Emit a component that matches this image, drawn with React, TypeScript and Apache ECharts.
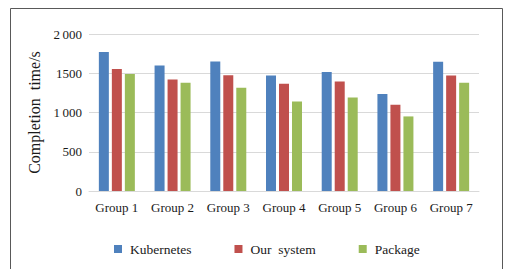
import React, { useEffect, useRef } from "react";
import * as echarts from "echarts";

const categories = ["Group 1", "Group 2", "Group 3", "Group 4", "Group 5", "Group 6", "Group 7"];
const kubernetes = [1770, 1600, 1650, 1470, 1515, 1235, 1645];
const ourSystem = [1555, 1420, 1475, 1365, 1395, 1100, 1470];
const packageVals = [1490, 1380, 1315, 1140, 1190, 950, 1380];
const yTickLabels: Record<number, string> = { 0: "0", 500: "500", 1000: "1\u2009000", 1500: "1500", 2000: "2\u2009000" };

const FONT = "'Liberation Serif', 'DejaVu Serif', serif";

export default function App() {
  const ref = useRef<HTMLDivElement>(null);
  useEffect(() => {
    if (!ref.current) return;
    const chart = echarts.init(ref.current, undefined, { renderer: "svg" });
    chart.setOption({
      animation: false,
      backgroundColor: "#ffffff",
      textStyle: { fontFamily: FONT },
      graphic: [
        {
          type: "rect",
          shape: { x: 10.5, y: 8.5, width: 492, height: 280 },
          style: { fill: "none", stroke: "#595959", lineWidth: 1 },
          silent: true,
        },
      ],
      grid: { left: 89, right: 32, top: 34, bottom: 78 },
      legend: {
        left: 109,
        top: 237,
        itemWidth: 8,
        itemHeight: 8,
        itemGap: 43,
        icon: "rect",
        textStyle: { fontFamily: FONT, fontSize: 13.5, color: "#1a1a1a", padding: [0, 0, 0, 3] },
        data: ["Kubernetes", "Our  system", "Package"],
      },
      xAxis: {
        type: "category",
        data: categories,
        axisTick: { show: false },
        axisLine: { lineStyle: { color: "#d9d9d9", width: 1 } },
        axisLabel: { fontFamily: FONT, fontSize: 13, color: "#1a1a1a", margin: 10, interval: 0 },
      },
      yAxis: {
        type: "value",
        min: 0,
        max: 2000,
        interval: 500,
        name: "Completion  time/s",
        nameLocation: "middle",
        nameGap: 46,
        nameTextStyle: { fontFamily: FONT, fontSize: 16, color: "#1a1a1a" },
        axisLine: { show: false },
        axisTick: { show: false },
        splitLine: { lineStyle: { color: "#d9d9d9", width: 1 } },
        axisLabel: {
          fontFamily: FONT,
          fontSize: 13,
          color: "#1a1a1a",
          margin: 7,
          formatter: (v: number) => yTickLabels[v] ?? String(v),
        },
      },
      series: [
        { name: "Kubernetes", type: "bar", data: kubernetes, barWidth: 10, barGap: "30%", itemStyle: { color: "#4f81bd" } },
        { name: "Our  system", type: "bar", data: ourSystem, barWidth: 10, barGap: "30%", itemStyle: { color: "#c0504d" } },
        { name: "Package", type: "bar", data: packageVals, barWidth: 10, barGap: "30%", itemStyle: { color: "#9bbb59" } },
      ],
    });
    return () => chart.dispose();
  }, []);
  return <div ref={ref} style={{ position: "absolute", left: 0, top: 0, width: 511, height: 269 }} />;
}
